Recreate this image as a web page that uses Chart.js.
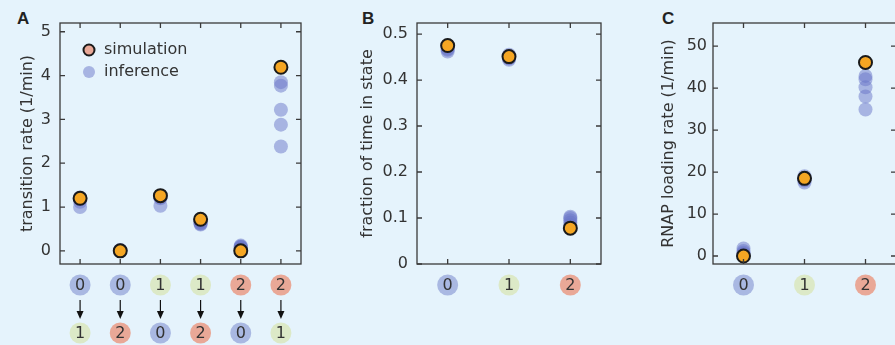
<!DOCTYPE html>
<html>
<head>
<meta charset="utf-8">
<script src="https://cdn.jsdelivr.net/npm/chart.js@4.4.0/dist/chart.umd.min.js"></script>
<style>
  html, body { margin: 0; padding: 0; background: #e5f3fc; width: 895px; height: 345px; overflow: hidden; position: relative; }
  canvas { position: absolute; top: 0; }
  .panel { position: absolute; top: 9px; font: bold 17px "Liberation Sans", Arial, sans-serif; color: #222; }
</style>
</head>
<body>
<div class="panel" style="left:17px">A</div>
<div class="panel" style="left:362px">B</div>
<div class="panel" style="left:662px">C</div>
<canvas id="chartA" width="310" height="345" style="left:0"></canvas>
<canvas id="chartB" width="270" height="345" style="left:340px"></canvas>
<canvas id="chartC" width="264" height="345" style="left:641px"></canvas>
<script>
// --- data ---
const fromStates = ['0', '0', '1', '1', '2', '2'];
const toStates = ['1', '2', '0', '2', '0', '1'];
const simRate = [1.2, 0.0, 1.26, 0.72, 0.0, 4.19];
const infRate = [
    [1.0, 1.12, 1.17, 1.2, 1.22],
    [0.0, 0.01, 0.02, 0.0, 0.01],
    [1.03, 1.2, 1.24, 1.26, 1.22],
    [0.6, 0.63, 0.66, 0.68, 0.62],
    [0.05, 0.08, 0.1, 0.12, 0.09],
    [3.85, 3.77, 3.22, 2.88, 2.38]
];

const states = ['0', '1', '2'];
const simFraction = [0.475, 0.451, 0.078];
const infFraction = [
    [0.462, 0.468, 0.472, 0.475, 0.466],
    [0.444, 0.448, 0.452, 0.455, 0.447],
    [0.085, 0.09, 0.095, 0.1, 0.103]
];

const simLoading = [0.0, 18.5, 46.1];
const infLoading = [
    [0.3, 0.8, 1.2, 1.8, 0.5],
    [17.5, 18.0, 18.5, 19.0, 18.2],
    [42.1, 42.9, 40.2, 38.0, 34.9]
];

// colours
const stateColors = { '0': '#a9b8e2', '1': '#dce9c7', '2': '#e9a897' };
const simFill = '#f5a623';
const infFill = 'rgba(105, 118, 200, 0.5)';
const inkColor = '#333333';
const fontFamily = '"DejaVu Sans", "Liberation Sans", Arial, sans-serif';

Chart.defaults.font.family = fontFamily;
Chart.defaults.font.size = 16;
Chart.defaults.color = inkColor;

function toPoints(values) {
    return values.map((v, i) => ({ x: i, y: v }));
}

function toCloud(groups) {
    const pts = [];
    groups.forEach((g, i) => g.forEach(v => pts.push({ x: i, y: v })));
    return pts;
}

function stateBadge(ctx, x, y, label) {
    ctx.beginPath();
    ctx.arc(x, y, 10.5, 0, Math.PI * 2);
    ctx.fillStyle = stateColors[label];
    ctx.fill();
    ctx.fillStyle = inkColor;
    ctx.font = '16px ' + fontFamily;
    ctx.textAlign = 'center';
    ctx.textBaseline = 'middle';
    ctx.fillText(label, x, y + 1);
}

// box around the plot, inward ticks, state badges below the x axis
const framePlugin = {
    id: 'frame',
    afterDraw(chart, args, opts) {
        const ctx = chart.ctx;
        const area = chart.chartArea;
        const xs = chart.scales.x;
        const ys = chart.scales.y;
        ctx.save();
        ctx.strokeStyle = '#3a3a3a';
        ctx.lineWidth = 1.3;
        ctx.strokeRect(area.left, area.top, area.right - area.left, area.bottom - area.top);
        ctx.beginPath();
        ys.ticks.forEach(t => {
            const py = ys.getPixelForValue(t.value);
            ctx.moveTo(area.left, py); ctx.lineTo(area.left + 5, py);
            ctx.moveTo(area.right, py); ctx.lineTo(area.right - 5, py);
        });
        opts.from.forEach((lab, i) => {
            const px = xs.getPixelForValue(i);
            ctx.moveTo(px, area.top); ctx.lineTo(px, area.top + 5);
            ctx.moveTo(px, area.bottom); ctx.lineTo(px, area.bottom - 5);
        });
        ctx.stroke();

        opts.from.forEach((lab, i) => {
            const px = xs.getPixelForValue(i);
            stateBadge(ctx, px, area.bottom + 21, lab);
            if (opts.to) {
                ctx.strokeStyle = '#111';
                ctx.lineWidth = 1.2;
                ctx.beginPath();
                ctx.moveTo(px, area.bottom + 36);
                ctx.lineTo(px, area.bottom + 48);
                ctx.stroke();
                ctx.beginPath();
                ctx.moveTo(px - 3.5, area.bottom + 47);
                ctx.lineTo(px + 3.5, area.bottom + 47);
                ctx.lineTo(px, area.bottom + 55);
                ctx.closePath();
                ctx.fillStyle = '#111';
                ctx.fill();
                stateBadge(ctx, px, area.bottom + 69, opts.to[i]);
            }
        });

        if (opts.legend) {
            const lx = area.left + 29;
            const ly = area.top + 27;
            ctx.beginPath();
            ctx.arc(lx, ly, 5.5, 0, Math.PI * 2);
            ctx.fillStyle = stateColors['2'];
            ctx.fill();
            ctx.lineWidth = 2;
            ctx.strokeStyle = '#1a1a1a';
            ctx.stroke();
            ctx.beginPath();
            ctx.arc(lx, ly + 22, 6, 0, Math.PI * 2);
            ctx.fillStyle = 'rgba(105, 118, 200, 0.5)';
            ctx.fill();
            ctx.fillStyle = inkColor;
            ctx.font = '16px ' + fontFamily;
            ctx.textAlign = 'left';
            ctx.textBaseline = 'middle';
            ctx.fillText('simulation', lx + 15, ly);
            ctx.fillText('inference', lx + 15, ly + 22);
        }
        ctx.restore();
    }
};

function makeChart(id, cfg) {
    const ctx = document.getElementById(id).getContext('2d');
    return new Chart(ctx, {
        type: 'scatter',
        data: {
            datasets: [{
                label: 'simulation',
                data: toPoints(cfg.sim),
                backgroundColor: simFill,
                borderColor: '#1a1a1a',
                borderWidth: 2,
                pointRadius: 6.5
            }, {
                label: 'inference',
                data: toCloud(cfg.inf),
                backgroundColor: infFill,
                borderWidth: 0,
                pointRadius: 7
            }]
        },
        options: {
            responsive: false,
            animation: false,
            devicePixelRatio: 1,
            layout: { padding: { left: 0, top: 23, right: 9, bottom: 81 } },
            scales: {
                x: {
                    type: 'linear',
                    min: -0.5,
                    max: cfg.from.length - 0.5,
                    display: false
                },
                y: {
                    min: cfg.yMin,
                    max: cfg.yMax,
                    ticks: { stepSize: cfg.step, includeBounds: false, padding: cfg.tickPad, color: inkColor },
                    grid: { display: false, drawTicks: false },
                    border: { display: false },
                    title: {
                        display: true,
                        text: cfg.title,
                        color: inkColor,
                        font: { size: 16 },
                        padding: { top: 18, bottom: 0 }
                    },
                    afterFit(scale) { scale.width = cfg.axisWidth; }
                }
            },
            plugins: {
                legend: { display: false },
                tooltip: { enabled: false },
                frame: { from: cfg.from, to: cfg.to, legend: cfg.legend }
            }
        },
        plugins: [framePlugin]
    });
}

makeChart('chartA', {
    sim: simRate, inf: infRate, from: fromStates, to: toStates, legend: true,
    yMin: -0.3, yMax: 5.2, step: 1, tickPad: 9, axisWidth: 60,
    title: 'transition rate (1/min)'
});
makeChart('chartB', {
    sim: simFraction, inf: infFraction, from: states, to: null, legend: false,
    yMin: 0, yMax: 0.524, step: 0.1, tickPad: 9, axisWidth: 77,
    title: 'fraction of time in state'
});
makeChart('chartC', {
    sim: simLoading, inf: infLoading, from: states, to: null, legend: false,
    yMin: -1.9, yMax: 55.5, step: 10, tickPad: 6, axisWidth: 72,
    title: 'RNAP loading rate (1/min)'
});
</script>
</body>
</html>
